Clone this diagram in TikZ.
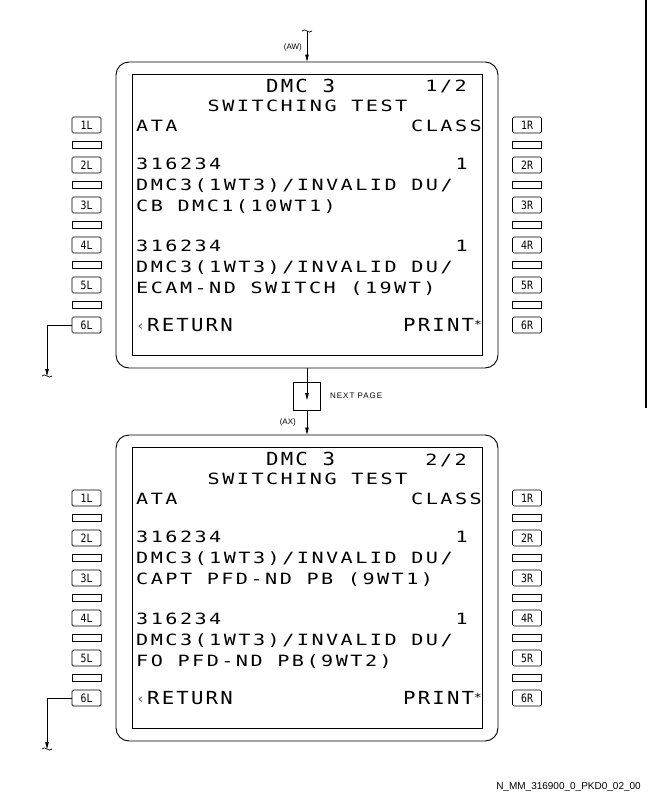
\documentclass[tikz,border=0pt]{standalone}
\usepackage{fontspec}
\setmainfont{Liberation Sans}
\newfontfamily\mcdufont[FakeStretch=1.3,LetterSpace=16]{DejaVu Sans Mono}
\newfontfamily\mcdubig[FakeStretch=1.15,LetterSpace=12]{DejaVu Sans Mono}
\newfontfamily\keyfont[FakeStretch=0.85]{DejaVu Sans Mono}
\usetikzlibrary{arrows.meta}
\tikzset{
  mcdu bezel/.style={draw, line width=0.9pt, rounded corners=13pt, minimum width=382pt, minimum height=306pt, inner sep=0pt},
  mcdu screen/.style={draw, line width=0.9pt, minimum width=350pt, minimum height=281pt, inner sep=0pt},
  mcdu key/.style={draw, line width=0.7pt, rounded corners=1.5pt, minimum width=29pt, minimum height=16pt, inner sep=0pt, font=\keyfont\fontsize{11.5}{12}\selectfont},
  mcdu slot/.style={draw, line width=0.7pt, minimum width=29pt, minimum height=7pt, inner sep=0pt},
  mcdu line/.style={inner sep=0pt, anchor=base west, font=\mcdufont\fontsize{15.5}{18}\selectfont},
  mcdu rline/.style={mcdu line, anchor=base east},
  mcdu title/.style={inner sep=0pt, anchor=base west, font=\mcdubig\fontsize{18}{20}\selectfont},
  mcdu arrow/.style={draw, line width=0.7pt, -{Triangle[length=7pt,width=3.5pt]}},
  mcdu break/.style={draw, line width=0.7pt},
  mcdu note/.style={inner sep=0pt, font=\fontsize{8}{9}\selectfont},
}

\begin{document}
\begin{tikzpicture}[x=1pt,y=-1pt]
  \useasboundingbox (0,0) rectangle (648,792);
  % two pages of the MCDU
  \foreach \s/\dy/\third/\sixth in {1/0/{CB DMC1(10WT1)}/{ECAM-ND SWITCH (19WT)},
                                    2/373/{CAPT PFD-ND PB (9WT1)}/{FO PFD-ND PB(9WT2)}} {
    \begin{scope}[yshift=-\dy pt]
      \node[mcdu bezel] (bezel-\s) at (307,215) {};
      \node[mcdu screen] (screen-\s) at (307,214.5) {};
      % line select keys
      \foreach \r [count=\k] in {125,165,...,325} {
        \node[mcdu key] (L\k-\s) at (86.5,\r) {\k L};
        \node[mcdu key] (R\k-\s) at (527,\r) {\k R};
      }
      \foreach \r [count=\k] in {145,185,...,305} {
        \node[mcdu slot] (LS\k-\s) at (86.5,\r) {};
        \node[mcdu slot] (RS\k-\s) at (527,\r) {};
      }
      % display
      \node[mcdu title] (title-\s) at (266,92.5) {DMC 3};
      \node[mcdu rline] (page-\s) at (467,92) {\s/2};
      \node[mcdu line, anchor=base] (head-\s) at (307.5,111) {SWITCHING TEST};
      \node[mcdu line] (ata-\s) at (136,131) {ATA};
      \node[mcdu rline] (class-\s) at (482,131) {CLASS};
      \node[mcdu line] (code-a-\s) at (136,169) {316234};
      \node[mcdu rline] (cls-a-\s) at (468,169) {1};
      \node[mcdu line] (msg-a-\s) at (136,190) {DMC3(1WT3)/INVALID DU/};
      \node[mcdu line] (cb-a-\s) at (136,211) {\third};
      \node[mcdu line] (code-b-\s) at (136,251) {316234};
      \node[mcdu rline] (cls-b-\s) at (468,251) {1};
      \node[mcdu line] (msg-b-\s) at (136,272) {DMC3(1WT3)/INVALID DU/};
      \node[mcdu line] (cb-b-\s) at (136,293) {\sixth};
      \node[mcdu title] (return-\s) at (136,331.5)
        {\makebox[11pt][l]{\raisebox{1.5pt}{\fontsize{13}{13}\selectfont\color{black!70}‹}}RETURN};
      \node[mcdu title, anchor=base east] (print-\s) at (482,331.5)
        {PRINT\raisebox{3pt}{\fontsize{11}{11}\selectfont*}};
      % return leg
      \coordinate (ret-\s) at (47,376);
      \draw[mcdu arrow] (L6-\s.west) -| (ret-\s);
      \draw[mcdu break] ([xshift=-5pt]ret-\s) .. controls +(3,-4) and +(-3,4) .. ([xshift=5pt]ret-\s);
    \end{scope}
  }
  % entry and next page
  \coordinate (aw) at (307,31);
  \draw[mcdu arrow] (aw) -- (bezel-1.north);
  \draw[mcdu break] ([xshift=-5pt]aw) .. controls +(3,-4) and +(-3,4) .. ([xshift=5pt]aw);
  \node[mcdu note, anchor=east] (aw-label) at (302,47) {(AW)};
  \node[draw, line width=0.7pt, minimum width=27pt, minimum height=28pt, inner sep=0pt] (np) at (307,396) {};
  \draw[mcdu arrow, shorten >=-4pt] (bezel-1.south) -- (np.center);
  \draw[mcdu arrow] (np.south) -- (bezel-2.north);
  \node[mcdu note, anchor=west] (np-label) at (330,396) {\addfontfeature{LetterSpace=12}NEXT PAGE};
  \node[mcdu note, anchor=east] (ax-label) at (296,422) {(AX)};
  % sheet edge and reference
  \coordinate (edge-top) at (646,0);
  \coordinate (edge-bot) at (646,408);
  \draw[line width=1.2pt] (edge-top) -- (edge-bot);
  \node[anchor=base east, inner sep=0pt, font=\fontsize{10}{12}\selectfont] (ref) at (641,789) {N\_MM\_316900\_0\_PKD0\_02\_00};
\end{tikzpicture}
\end{document}
